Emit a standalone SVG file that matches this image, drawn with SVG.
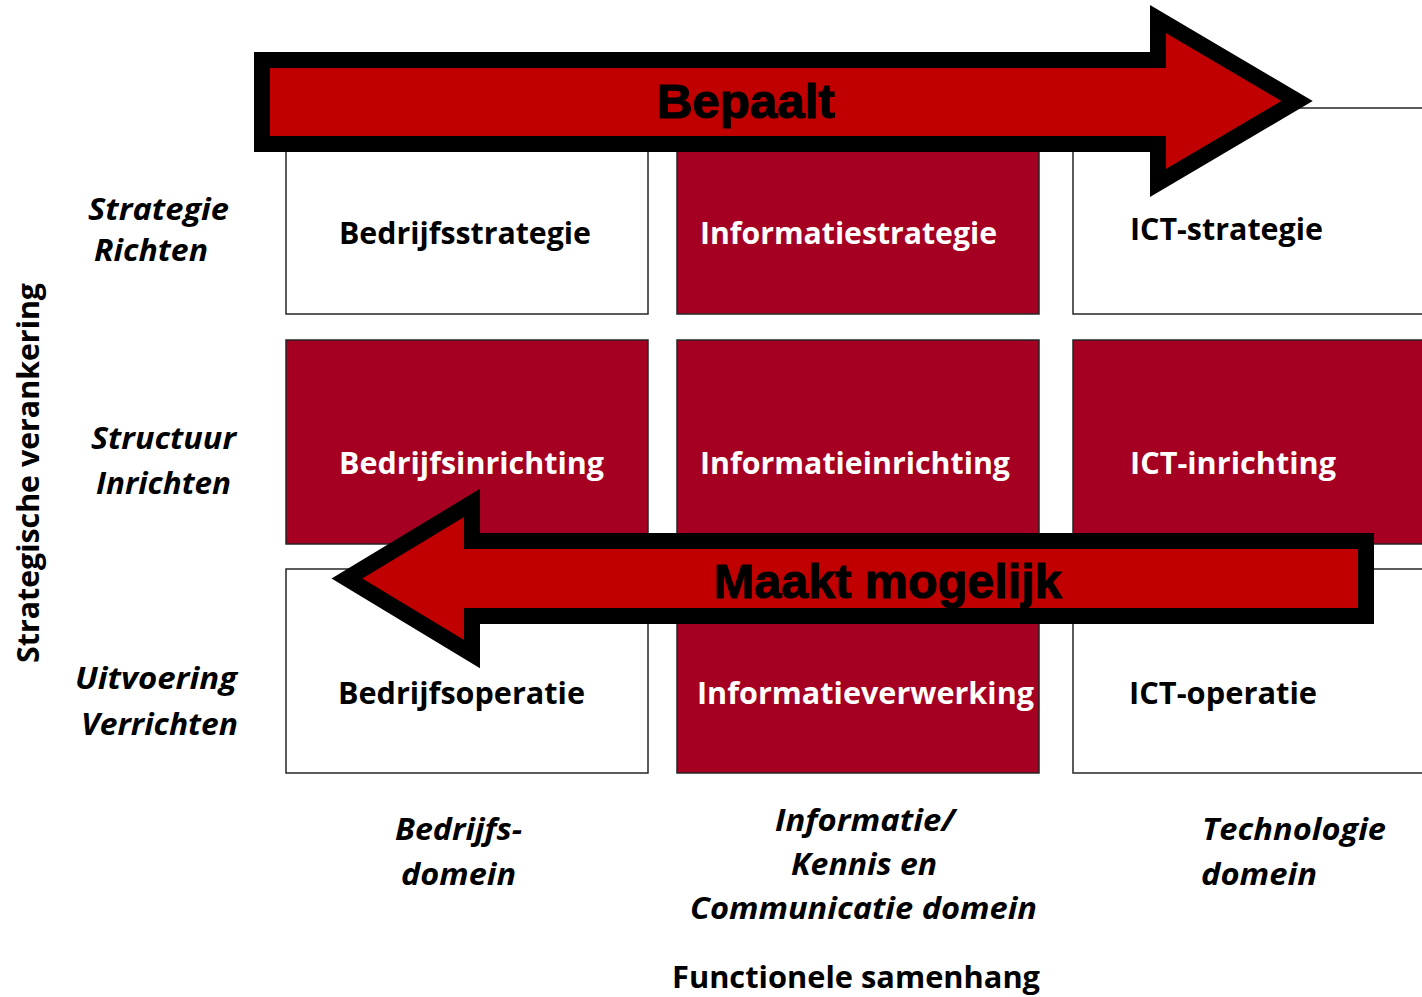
<svg xmlns="http://www.w3.org/2000/svg" width="1422" height="997" viewBox="0 0 1422 997">
<style>
.box{stroke:#262626;stroke-width:1.5}
.w{fill:#ffffff}
.r{fill:#A50021}
.bt{font-family:"Open Sans","Noto Sans",sans-serif;font-weight:700;font-size:31px}
.wt{fill:#ffffff}
.kt{fill:#000000}
.it{font-family:"Open Sans","Noto Sans",sans-serif;font-weight:700;font-style:italic;font-size:30px;fill:#000}
.arr{fill:#C00000;stroke:#000;stroke-width:16;stroke-linejoin:miter;stroke-miterlimit:10}
.at{font-family:"Liberation Sans",Arial,sans-serif;font-weight:700;font-size:49px;fill:#000;stroke:#000;stroke-width:1.2}
</style>
<rect width="1422" height="997" fill="#ffffff"/>
<g id="bedrijfsstrategie"><rect class="box w" x="286" y="108" width="362" height="206"/><text class="bt kt" x="339" y="244" textLength="252" lengthAdjust="spacingAndGlyphs">Bedrijfsstrategie</text></g>
<g id="informatiestrategie"><rect class="box r" x="677" y="108" width="362" height="206"/><text class="bt wt" x="700" y="244" textLength="297" lengthAdjust="spacingAndGlyphs">Informatiestrategie</text></g>
<g id="ict-strategie"><rect class="box w" x="1073" y="108" width="362" height="206"/><text class="bt kt" x="1130" y="240" textLength="193" lengthAdjust="spacingAndGlyphs">ICT-strategie</text></g>
<g id="bedrijfsinrichting"><rect class="box r" x="286" y="340" width="362" height="204"/><text class="bt wt" x="339" y="474" textLength="265" lengthAdjust="spacingAndGlyphs">Bedrijfsinrichting</text></g>
<g id="informatieinrichting"><rect class="box r" x="677" y="340" width="362" height="204"/><text class="bt wt" x="700" y="474" textLength="310" lengthAdjust="spacingAndGlyphs">Informatieinrichting</text></g>
<g id="ict-inrichting"><rect class="box r" x="1073" y="340" width="362" height="204"/><text class="bt wt" x="1130" y="474" textLength="206" lengthAdjust="spacingAndGlyphs">ICT-inrichting</text></g>
<g id="bedrijfsoperatie"><rect class="box w" x="286" y="569" width="362" height="204"/><text class="bt kt" x="338" y="704" textLength="247" lengthAdjust="spacingAndGlyphs">Bedrijfsoperatie</text></g>
<g id="informatieverwerking"><rect class="box r" x="677" y="569" width="362" height="204"/><text class="bt wt" x="697" y="704" textLength="337" lengthAdjust="spacingAndGlyphs">Informatieverwerking</text></g>
<g id="ict-operatie"><rect class="box w" x="1073" y="569" width="362" height="204"/><text class="bt kt" x="1129" y="704" textLength="188" lengthAdjust="spacingAndGlyphs">ICT-operatie</text></g>
<g id="row-labels">
<text class="it" x="88" y="220" textLength="141" lengthAdjust="spacingAndGlyphs">Strategie</text>
<text class="it" x="94" y="261" textLength="114" lengthAdjust="spacingAndGlyphs">Richten</text>
<text class="it" x="91" y="449" textLength="145" lengthAdjust="spacingAndGlyphs">Structuur</text>
<text class="it" x="96" y="494" textLength="135" lengthAdjust="spacingAndGlyphs">Inrichten</text>
<text class="it" x="75" y="689" textLength="162" lengthAdjust="spacingAndGlyphs">Uitvoering</text>
<text class="it" x="81" y="735" textLength="157" lengthAdjust="spacingAndGlyphs">Verrichten</text>
</g>
<g id="axis-y"><text class="bt kt" transform="translate(39,663) rotate(-90)" x="0" y="0" textLength="380" lengthAdjust="spacingAndGlyphs">Strategische verankering</text></g>
<g id="col-labels">
<text class="it" x="395" y="840" textLength="127" lengthAdjust="spacingAndGlyphs">Bedrijfs-</text>
<text class="it" x="401" y="885" textLength="115" lengthAdjust="spacingAndGlyphs">domein</text>
<text class="it" x="775" y="831" textLength="180" lengthAdjust="spacingAndGlyphs">Informatie/</text>
<text class="it" x="791" y="875" textLength="146" lengthAdjust="spacingAndGlyphs">Kennis en</text>
<text class="it" x="690" y="919" textLength="347" lengthAdjust="spacingAndGlyphs">Communicatie domein</text>
<text class="it" x="1202" y="840" textLength="184" lengthAdjust="spacingAndGlyphs">Technologie</text>
<text class="it" x="1201" y="885" textLength="116" lengthAdjust="spacingAndGlyphs">domein</text>
</g>
<g id="axis-x"><text class="bt kt" x="672" y="988" font-size="30" textLength="368" lengthAdjust="spacingAndGlyphs">Functionele samenhang</text></g>
<g id="connectors">
<path class="arr" d="M262,60 H1158 V19 L1297,101 L1158,183 V144 H262 Z"/>
<path class="arr" d="M1366,541 H472 V503 L347,578.5 L472,654 V616 H1366 Z"/>
<text class="at" x="657" y="118" textLength="178" lengthAdjust="spacingAndGlyphs">Bepaalt</text>
<text class="at" x="714" y="598" textLength="348" lengthAdjust="spacingAndGlyphs">Maakt mogelijk</text>
</g>
</svg>
